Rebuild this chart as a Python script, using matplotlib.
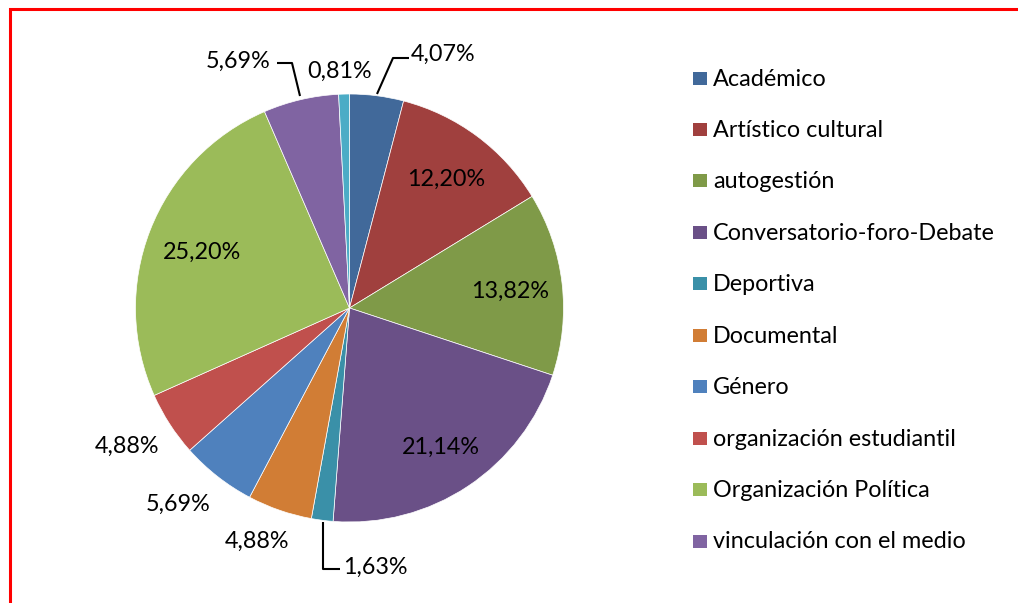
import matplotlib
matplotlib.use("Agg")
import matplotlib.pyplot as plt
from matplotlib.patches import Rectangle
import numpy as np

# ---- data ----
categories = ["Académico", "Artístico cultural", "autogestión", "Conversatorio-foro-Debate",
              "Deportiva", "Documental", "Género", "organización estudiantil",
              "Organización Política", "vinculación con el medio", ""]
values = [4.07, 12.20, 13.82, 21.14, 1.63, 4.88, 5.69, 4.88, 25.20, 5.69, 0.81]
labels = ["4,07%", "12,20%", "13,82%", "21,14%", "1,63%", "4,88%", "5,69%", "4,88%",
          "25,20%", "5,69%", "0,81%"]
colors = ["#41699A", "#A0403E", "#7F9A48", "#6A5087", "#3A90A8", "#D17D35",
          "#4F81BD", "#C0504D", "#9BBB59", "#8064A2", "#4BACC6"]

W, H = 1018, 603
plt.rcParams['font.family'] = ['Lato', 'DejaVu Sans']
FS = 16.8

fig = plt.figure(figsize=(W / 100, H / 100), dpi=100)
ax = fig.add_axes([0, 0, 1, 1])

def P(x, y):
    return (x, H - y)

cx, cy = P(349.5, 308)
R = 214
wedges, _ = ax.pie(values, colors=colors, startangle=90, counterclock=False,
                   center=(cx, cy), radius=R, frame=True,
                   wedgeprops=dict(edgecolor='white', linewidth=0.5))
ax.set_xlim(0, W)
ax.set_ylim(0, H)
ax.set_aspect('equal')
ax.axis('off')

# label placement (layout): inside labels by radius fraction, outside by pixel position
inside = {1: 0.76, 2: 0.755, 3: 0.77, 8: 0.74}
outside = {0: (443, 54), 4: (375, 567), 5: (257, 541), 6: (178, 504),
           7: (127, 446), 9: (238, 61), 10: (340, 71)}
cum = np.cumsum([0] + values[:-1])
total = sum(values)
for i, lab in enumerate(labels):
    if i in inside:
        mid = (cum[i] + values[i] / 2) / total * 2 * np.pi
        x = cx + inside[i] * R * np.sin(mid)
        y = cy + inside[i] * R * np.cos(mid) - 2
    else:
        x, y = P(*outside[i])
    ax.text(x, y, lab, ha='center', va='center', fontsize=FS, color='black')

# leader lines
leaders = [[(377, 94), (393, 58), (409, 58)],
           [(300, 96), (292, 63), (277, 63)],
           [(323, 522), (323, 569), (340, 569)]]
for pts in leaders:
    xs = [p[0] for p in pts]
    ys = [H - p[1] for p in pts]
    ax.plot(xs, ys, color='black', lw=1.5, solid_capstyle='butt')

# legend (manual)
ys0 = 78
step = (541 - 78) / 9
for i in range(10):
    yy = ys0 + i * step
    ax.add_patch(Rectangle((693, H - yy - 6.5), 14, 13, facecolor=colors[i], edgecolor='none'))
    ax.text(713, H - yy - 1, categories[i], ha='left', va='center', fontsize=FS, color='black')

# red border
ax.add_patch(Rectangle((10, -20), W + 20, H - 9 + 20, facecolor='none', edgecolor='#FF0000',
                       lw=2.2, clip_on=False))

fig.savefig("out.png", dpi=100)
